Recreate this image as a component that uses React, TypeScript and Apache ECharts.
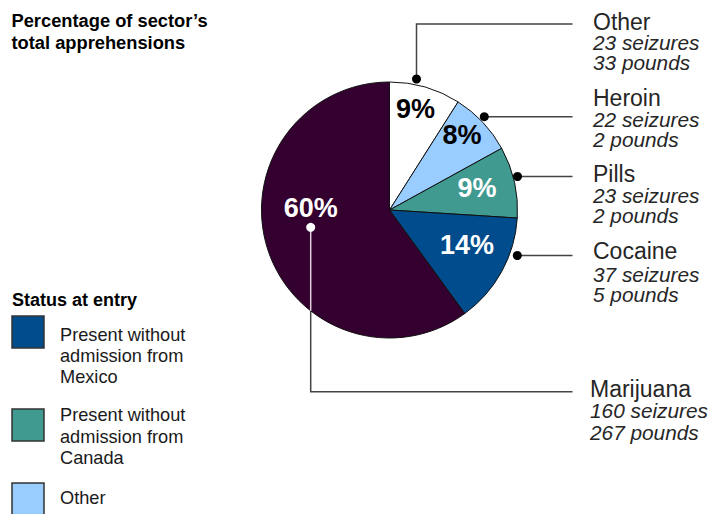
import React, { useEffect, useRef } from "react";
import * as echarts from "echarts";

const categories = ["Other", "Heroin", "Pills", "Cocaine", "Marijuana"];
const shares = [9, 8, 9, 14, 60];
const seizures = [23, 22, 23, 37, 160];
const pounds = [33, 2, 2, 5, 267];
const sliceColors = ["#ffffff", "#99ccff", "#409a90", "#004c8c", "#33002f"];
const pctColors = ["#000000", "#000000", "#ffffff", "#ffffff", "#ffffff"];

const titleLines = ["Percentage of sector\u2019s", "total apprehensions"];
const legendTitle = "Status at entry";
const legendLabels = [
  ["Present without", "admission from", "Mexico"],
  ["Present without", "admission from", "Canada"],
  ["Other"],
];
const legendColors = ["#004c8c", "#409a90", "#99ccff"];

const FONT = "'Liberation Sans', Arial, Helvetica, sans-serif";
const CX = 389.5;
const CY = 210;
const R = 128;

// layout of percentage labels (pixel centres)
const pctPos = [
  [415.5, 108.5],
  [462, 134.5],
  [477, 187.5],
  [467, 245],
  [310.8, 208],
];

// annotation layout: leader line points, dot, text x and baselines
const callouts = [
  { pts: [[416.5, 79], [416.5, 24], [572.5, 24]], tx: 593, base: [30, 50, 70] },
  { pts: [[484.3, 116.7], [572.5, 116.7]], tx: 593, base: [106, 127, 147] },
  { pts: [[517.5, 176.5], [572.5, 176.5]], tx: 593, base: [181.5, 203, 223] },
  { pts: [[517.3, 255.5], [572.5, 255.5]], tx: 593, base: [259, 281.5, 301.5] },
  { pts: [[310.7, 227.3], [310.7, 391.7], [572.5, 391.7]], tx: 590, base: [397, 418, 439.5] },
];

export default function App() {
  const ref = useRef<HTMLDivElement>(null);
  useEffect(() => {
    document.body.style.margin = "0";
    const chart = echarts.init(ref.current!, null, { renderer: "svg" });
    const graphics: any[] = [];

    // title
    titleLines.forEach((t, i) => {
      graphics.push({
        type: "text",
        x: 11.5,
        y: [26.5, 48.5][i] - 0.3465 * 18.3,
        style: { text: t, fontSize: 18.3, fontWeight: "bold", fontFamily: FONT, fill: "#000", align: "left", verticalAlign: "middle" },
      });
    });

    // callouts
    callouts.forEach((c, i) => {
      const isMar = i === 4;
      if (isMar) {
        const edgeY = CY + Math.sqrt(R * R - (c.pts[0][0] - CX) ** 2);
        graphics.push({
          type: "polyline",
          shape: { points: [[c.pts[0][0], edgeY], c.pts[1], c.pts[2]] },
          style: { stroke: "#444", lineWidth: 1.5, fill: null },
        });
        graphics.push({
          type: "line",
          shape: { x1: c.pts[0][0], y1: c.pts[0][1], x2: c.pts[0][0], y2: edgeY },
          style: { stroke: "#dcd0da", lineWidth: 1.5 },
          z: 10,
        });
      } else {
        graphics.push({
          type: "polyline",
          shape: { points: c.pts },
          style: { stroke: "#444", lineWidth: 1.5, fill: null },
        });
      }
      graphics.push({
        type: "circle",
        shape: { cx: c.pts[0][0], cy: c.pts[0][1], r: 4.5 },
        style: { fill: isMar ? "#ffffff" : "#000000" },
        z: 11,
      });
      const texts = [categories[i], `${seizures[i]} seizures`, `${pounds[i]} pounds`];
      texts.forEach((t, j) => {
        const fs = j === 0 ? 23 : 20.8;
        graphics.push({
          type: "text",
          x: c.tx,
          y: c.base[j] - 0.3465 * fs,
          style: {
            text: t,
            fontSize: fs,
            fontStyle: j === 0 ? "normal" : "italic",
            fontFamily: FONT,
            fill: "#262626",
            align: "left",
            verticalAlign: "middle",
          },
        });
      });
    });

    // legend
    graphics.push({
      type: "text",
      x: 12,
      y: 306 - 0.3465 * 18,
      style: { text: legendTitle, fontSize: 18, fontWeight: "bold", fontFamily: FONT, fill: "#000", align: "left", verticalAlign: "middle" },
    });
    const boxTops = [316, 409, 483];
    const textBases = [
      [341.7, 362.7, 383.5],
      [421.7, 443, 464.5],
      [504],
    ];
    legendLabels.forEach((lines, i) => {
      graphics.push({
        type: "rect",
        shape: { x: 12, y: boxTops[i], width: 32, height: 32 },
        style: { fill: legendColors[i], stroke: "#333", lineWidth: 1.5 },
      });
      lines.forEach((t, j) => {
        graphics.push({
          type: "text",
          x: 60,
          y: textBases[i][j] - 0.3465 * 18.2,
          style: { text: t, fontSize: 18.2, fontFamily: FONT, fill: "#1a1a1a", align: "left", verticalAlign: "middle" },
        });
      });
    });

    chart.setOption({
      animation: false,
      backgroundColor: "#ffffff",
      series: [
        {
          type: "pie",
          center: [CX, CY],
          radius: R,
          startAngle: 90,
          clockwise: true,
          avoidLabelOverlap: false,
          silent: true,
          itemStyle: { borderColor: "#111", borderWidth: 1 },
          label: {
            show: true,
            position: "inside",
            formatter: "{c}%",
            fontSize: 27,
            fontWeight: "bold",
            fontFamily: FONT,
          },
          labelLine: { show: false },
          labelLayout: (p: any) => ({
            x: pctPos[p.dataIndex][0],
            y: pctPos[p.dataIndex][1],
            align: "center",
            verticalAlign: "middle",
          }),
          emphasis: { disabled: true },
          data: categories.map((name, i) => ({
            name,
            value: shares[i],
            itemStyle: { color: sliceColors[i] },
            label: { color: pctColors[i] },
          })),
        },
      ],
      graphic: graphics,
    });
    return () => chart.dispose();
  }, []);
  return <div ref={ref} style={{ position: "fixed", left: 0, top: 0, width: 728, height: 514 }} />;
}
